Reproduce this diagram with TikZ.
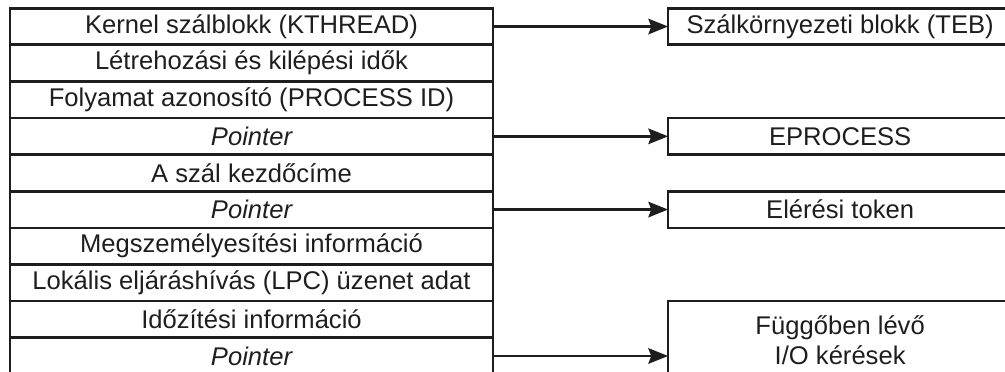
\documentclass[tikz,border=0pt]{standalone}
\usepackage{fontspec}
\setmainfont{Liberation Sans}
\usepackage{tikz}
\usetikzlibrary{positioning,arrows.meta}
\definecolor{inkgray}{RGB}{30,30,30}

\begin{document}
\begin{tikzpicture}[x=0.025cm,y=-0.025cm,node distance=0cm,every node/.style={font=\fontsize{18.2}{21.5}\selectfont,text=inkgray},field/.style={draw=inkgray,line width=1.9pt,outer sep=0pt,inner sep=0pt,minimum width=12.075cm,minimum height=0.915cm},refbox/.style={field,minimum width=8.6cm},ptr/.style={-{Stealth[length=14pt,width=11pt,inset=2pt]},draw=inkgray,line width=1.9pt}]
        \clip (0,0) rectangle (1005,371);
        % thread block fields
        \node[field] at (251.5,26.5) (kthread) {Kernel szálblokk (KTHREAD)};
        \node[field,below=of kthread] (times) {Létrehozási és kilépési idők};
        \node[field,below=of times] (pid) {Folyamat azonosító (PROCESS ID)};
        \node[field,below=of pid] (ptrproc) {\itshape Pointer};
        \node[field,below=of ptrproc] (start) {A szál kezdőcíme};
        \node[field,below=of start] (ptrtok) {\itshape Pointer};
        \node[field,below=of ptrtok] (imperson) {Megszemélyesítési információ};
        \node[field,below=of imperson] (lpc) {Lokális eljáráshívás (LPC) üzenet adat};
        \node[field,below=of lpc] (timing) {Időzítési információ};
        \node[field,below=of timing] (ptrio) {\itshape Pointer};
        % referenced structures
        \node[refbox,right=4.375cm of kthread] (teb) {Szálkörnyezeti blokk (TEB)};
        \node[refbox,right=4.375cm of ptrproc] (eproc) {EPROCESS};
        \node[refbox,right=4.375cm of ptrtok] (token) {Elérési token};
        \node[refbox,minimum height=1.95cm,align=center,anchor=north west] at ([xshift=4.375cm]timing.north east) (iorq) {Függőben lévő\\I/O kérések};
        \draw[ptr] (kthread)--(teb);
        \draw[ptr] (ptrproc)--(eproc);
        \draw[ptr] (ptrtok)--(token);
        \draw[ptr] (ptrio.east)--(ptrio.east -| iorq.west);
      \end{tikzpicture}
\end{document}
